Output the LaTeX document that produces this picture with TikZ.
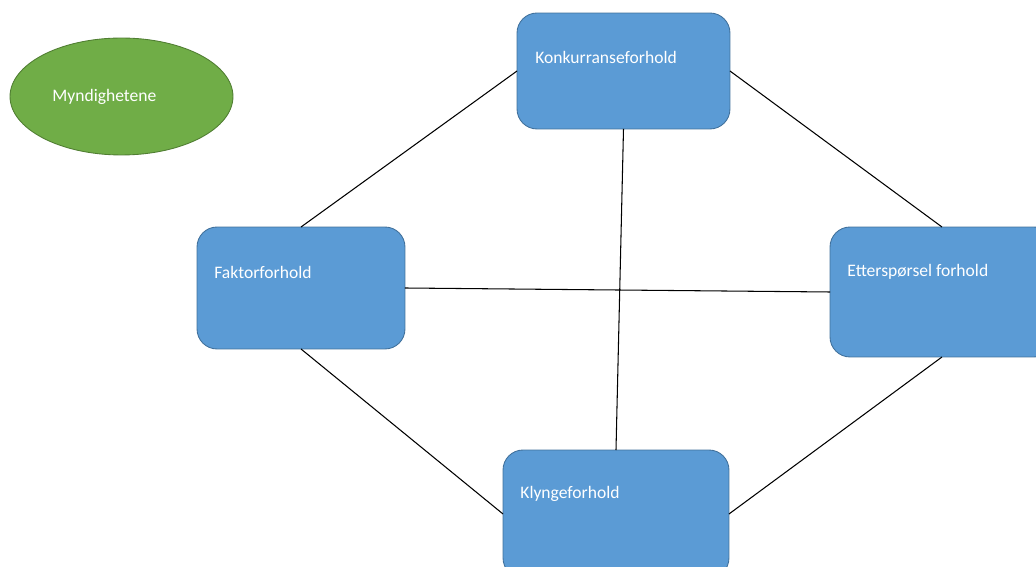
\documentclass[tikz,border=0pt]{standalone}
\usepackage{fontspec}
\setmainfont{Carlito}
\usetikzlibrary{positioning,shapes.geometric}
\definecolor{pfblue}{HTML}{5B9BD5}
\definecolor{pfblueedge}{HTML}{41719C}
\definecolor{pfgreen}{HTML}{70AD47}
\definecolor{pfgreenedge}{HTML}{507E32}
\begin{document}
\begin{tikzpicture}[
  x=0.02cm, y=-0.02cm,
  pfbox/.style = {draw=pfblueedge, fill=pfblue, line width=0.5pt,
    rounded corners=0.4cm, inner sep=0pt, outer sep=0pt},
  pfoval/.style = {draw=pfgreenedge, fill=pfgreen, line width=0.5pt,
    ellipse, inner sep=0pt, outer sep=0pt},
  pftext/.style = {text=white, font=\fontsize{10}{12}\selectfont,
    anchor=west, inner sep=0pt},
  pfline/.style = {line width=0.6pt, black}
]
  \useasboundingbox (0,0) rectangle (1036,567);
  % boksene
  \node[pfbox, minimum width=4.26cm, minimum height=2.32cm] (konk) at (623.5,71) {};
  \node[pfbox, minimum width=4.16cm, minimum height=2.44cm] (faktor) at (301,288) {};
  \node[pfbox, minimum width=4.48cm, minimum height=2.60cm] (etter) at (942,292) {};
  \node[pfbox, minimum width=4.52cm, minimum height=2.56cm] (klynge) at (616,514) {};
  \node[pfoval, minimum width=4.46cm, minimum height=2.34cm] (mynd) at (121.5,96.5) {};
  % tekst
  \node[pftext] (konktxt) at ([shift={(18,44)}]konk.north west) {Konkurranseforhold};
  \node[pftext] (faktortxt) at ([shift={(17,45)}]faktor.north west) {Faktorforhold};
  \node[pftext] (ettertxt) at ([shift={(17,45)}]etter.north west) {Etterspørsel forhold};
  \node[pftext] (klyngetxt) at ([shift={(17,44)}]klynge.north west) {Klyngeforhold};
  \node[pftext] (myndtxt) at ([shift={(42,0)}]mynd.west) {Myndighetene};
  % linjer
  \draw[pfline] (faktor.north) -- (konk.west);
  \draw[pfline] (konk.east) -- (etter.north);
  \draw[pfline] (faktor.south) -- (klynge.west);
  \draw[pfline] (klynge.east) -- (etter.south);
  \draw[pfline] (faktor.east) -- (etter.west);
  \draw[pfline] (konk.south) -- (klynge.north);
\end{tikzpicture}
\end{document}
